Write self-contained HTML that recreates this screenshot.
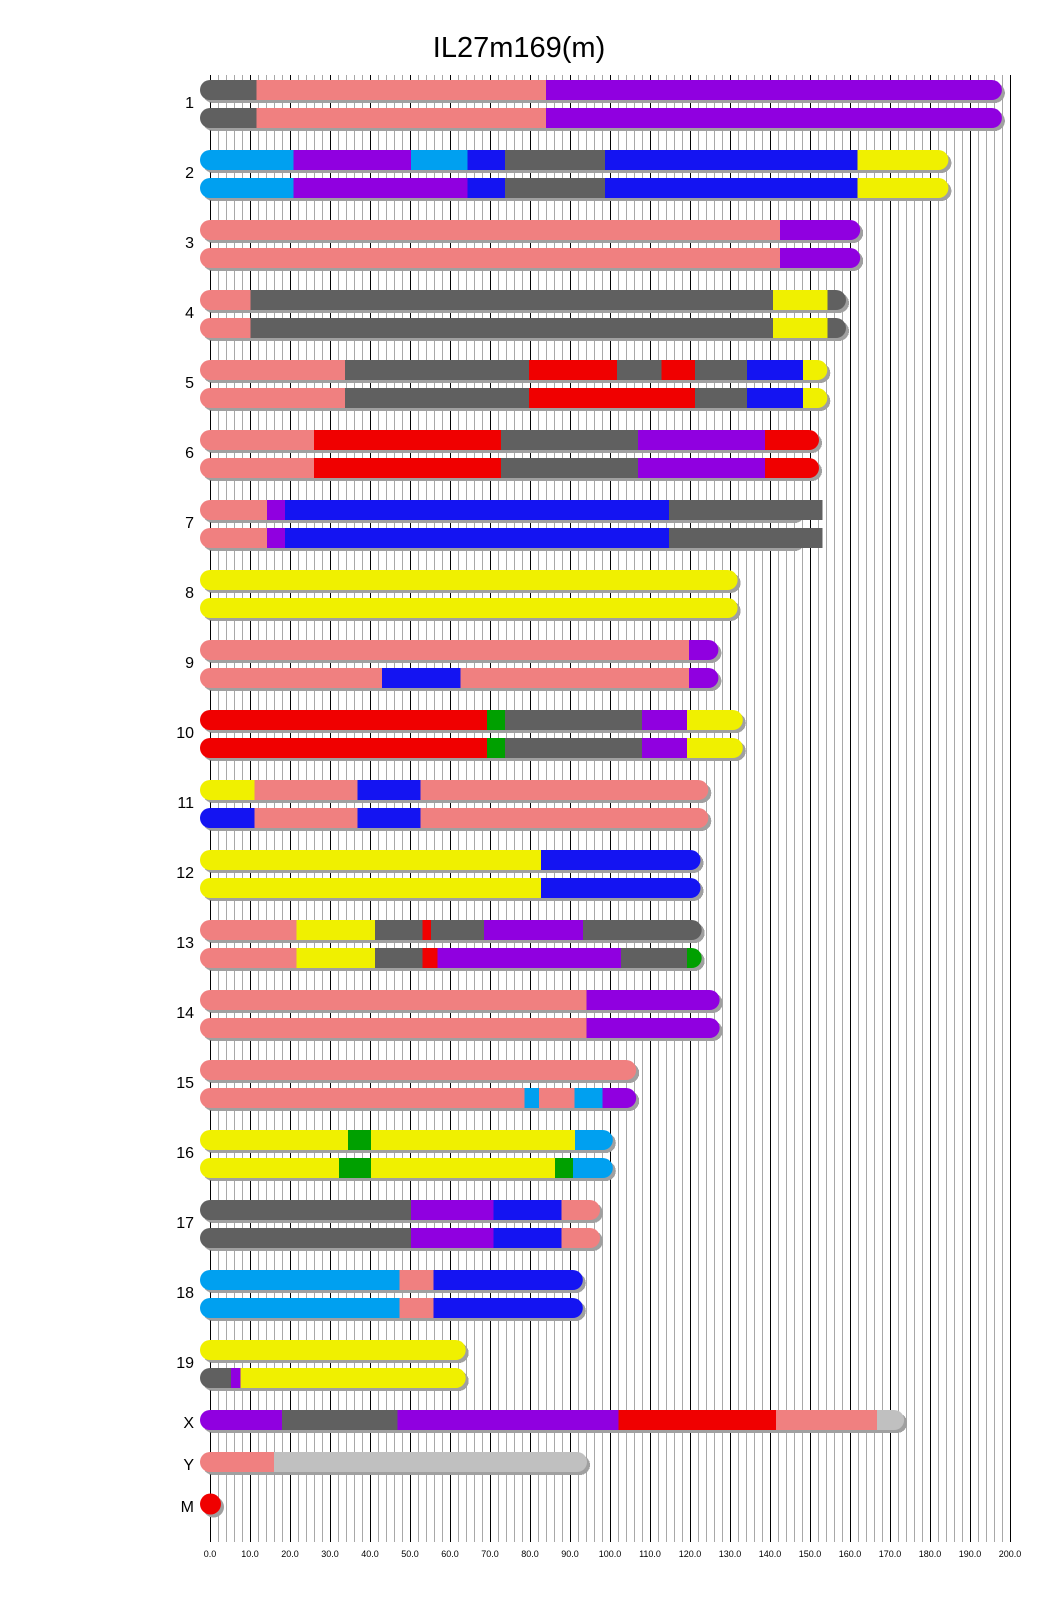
<!DOCTYPE html>
<html><head><meta charset="utf-8"><style>
html,body{margin:0;padding:0;background:#fff;}
svg{display:block;}
.s{fill:#a0a0a0}.g{fill:#606060}.p{fill:#f08080}.u{fill:#9000e0}.b{fill:#1414f2}.L{fill:#00a0f0}.y{fill:#f0f000}.r{fill:#f00000}.gr{fill:#00a000}.lg{fill:#c0c0c0}
text{font-family:"Liberation Sans",Arial,sans-serif;fill:#000}
.cl{font-size:16px;text-anchor:end}
.tk{font-size:9px;text-anchor:middle}
</style></head><body>
<svg width="1040" height="1616" viewBox="0 0 1040 1616" xmlns="http://www.w3.org/2000/svg" shape-rendering="crispEdges">
<defs>
<pattern id="pg" patternUnits="userSpaceOnUse" x="210" y="0" width="8" height="10"><rect x="0" y="0" width="1" height="10" fill="#a8a8a8"/></pattern>
<pattern id="pb" patternUnits="userSpaceOnUse" x="210" y="0" width="40" height="10"><rect x="0" y="0" width="1" height="10" fill="#000"/></pattern>
<clipPath id="c1"><rect x="200" y="0" width="801.9" height="20" rx="10"/></clipPath>
<clipPath id="c2"><rect x="200" y="0" width="748.4" height="20" rx="10"/></clipPath>
<clipPath id="c3"><rect x="200" y="0" width="660.2" height="20" rx="10"/></clipPath>
<clipPath id="c4"><rect x="200" y="0" width="646" height="20" rx="10"/></clipPath>
<clipPath id="c5"><rect x="200" y="0" width="627.3" height="20" rx="10"/></clipPath>
<clipPath id="c6"><rect x="200" y="0" width="619" height="20" rx="10"/></clipPath>
<clipPath id="c7"><rect x="200" y="0" width="601.8" height="20" rx="10"/></clipPath>
<clipPath id="c8"><rect x="200" y="0" width="537.6" height="20" rx="10"/></clipPath>
<clipPath id="c9"><rect x="200" y="0" width="518.4" height="20" rx="10"/></clipPath>
<clipPath id="c10"><rect x="200" y="0" width="542.8" height="20" rx="10"/></clipPath>
<clipPath id="c11"><rect x="200" y="0" width="508.3" height="20" rx="10"/></clipPath>
<clipPath id="c12"><rect x="200" y="0" width="500.5" height="20" rx="10"/></clipPath>
<clipPath id="c13"><rect x="200" y="0" width="501.7" height="20" rx="10"/></clipPath>
<clipPath id="c14"><rect x="200" y="0" width="519.6" height="20" rx="10"/></clipPath>
<clipPath id="c15"><rect x="200" y="0" width="436.2" height="20" rx="10"/></clipPath>
<clipPath id="c16"><rect x="200" y="0" width="412.8" height="20" rx="10"/></clipPath>
<clipPath id="c17"><rect x="200" y="0" width="400" height="20" rx="10"/></clipPath>
<clipPath id="c18"><rect x="200" y="0" width="382.8" height="20" rx="10"/></clipPath>
<clipPath id="c19"><rect x="200" y="0" width="265.7" height="20" rx="10"/></clipPath>
<clipPath id="cX"><rect x="200" y="0" width="704.1" height="20" rx="10"/></clipPath>
<clipPath id="cY"><rect x="200" y="0" width="387" height="20" rx="10"/></clipPath>
</defs>
<rect x="0" y="0" width="1040" height="1616" fill="#fff"/>
<text x="519" y="57" style="font-size:29px;text-anchor:middle">IL27m169(m)</text>
<rect x="210" y="75" width="801" height="1467" fill="url(#pg)"/>
<rect x="210" y="75" width="801" height="1467" fill="url(#pb)"/>

<!-- chr1 -->
<g transform="translate(0,80)"><rect class="s" x="203" y="3" width="801.9" height="20" rx="10"/><g clip-path="url(#c1)">
<rect class="g" x="200" y="0" width="56.4" height="20"/><rect class="p" x="256.4" y="0" width="289.6" height="20"/><rect class="u" x="546" y="0" width="460" height="20"/></g></g>
<g transform="translate(0,108)"><rect class="s" x="203" y="3" width="801.9" height="20" rx="10"/><g clip-path="url(#c1)">
<rect class="g" x="200" y="0" width="56.4" height="20"/><rect class="p" x="256.4" y="0" width="289.6" height="20"/><rect class="u" x="546" y="0" width="460" height="20"/></g></g>
<text class="cl" x="194" y="108">1</text>

<!-- chr2 -->
<g transform="translate(0,150)"><rect class="s" x="203" y="3" width="748.4" height="20" rx="10"/><g clip-path="url(#c2)">
<rect class="L" x="200" y="0" width="93.5" height="20"/><rect class="u" x="293.5" y="0" width="117.7" height="20"/><rect class="L" x="411.2" y="0" width="56.4" height="20"/><rect class="b" x="467.6" y="0" width="37.2" height="20"/><rect class="g" x="504.8" y="0" width="100" height="20"/><rect class="b" x="604.8" y="0" width="252.8" height="20"/><rect class="y" x="857.6" y="0" width="95" height="20"/></g></g>
<g transform="translate(0,178)"><rect class="s" x="203" y="3" width="748.4" height="20" rx="10"/><g clip-path="url(#c2)">
<rect class="L" x="200" y="0" width="93.5" height="20"/><rect class="u" x="293.5" y="0" width="174.1" height="20"/><rect class="b" x="467.6" y="0" width="37.2" height="20"/><rect class="g" x="504.8" y="0" width="100" height="20"/><rect class="b" x="604.8" y="0" width="252.8" height="20"/><rect class="y" x="857.6" y="0" width="95" height="20"/></g></g>
<text class="cl" x="194" y="178">2</text>

<!-- chr3 -->
<g transform="translate(0,220)"><rect class="s" x="203" y="3" width="660.2" height="20" rx="10"/><g clip-path="url(#c3)">
<rect class="p" x="200" y="0" width="580" height="20"/><rect class="u" x="780" y="0" width="85" height="20"/></g></g>
<g transform="translate(0,248)"><rect class="s" x="203" y="3" width="660.2" height="20" rx="10"/><g clip-path="url(#c3)">
<rect class="p" x="200" y="0" width="580" height="20"/><rect class="u" x="780" y="0" width="85" height="20"/></g></g>
<text class="cl" x="194" y="248">3</text>

<!-- chr4 -->
<g transform="translate(0,290)"><rect class="s" x="203" y="3" width="646" height="20" rx="10"/><g clip-path="url(#c4)">
<rect class="p" x="200" y="0" width="50.4" height="20"/><rect class="g" x="250.4" y="0" width="522.4" height="20"/><rect class="y" x="772.8" y="0" width="54.8" height="20"/><rect class="g" x="827.6" y="0" width="25" height="20"/></g></g>
<g transform="translate(0,318)"><rect class="s" x="203" y="3" width="646" height="20" rx="10"/><g clip-path="url(#c4)">
<rect class="p" x="200" y="0" width="50.4" height="20"/><rect class="g" x="250.4" y="0" width="522.4" height="20"/><rect class="y" x="772.8" y="0" width="54.8" height="20"/><rect class="g" x="827.6" y="0" width="25" height="20"/></g></g>
<text class="cl" x="194" y="318">4</text>

<!-- chr5 -->
<g transform="translate(0,360)"><rect class="s" x="203" y="3" width="627.3" height="20" rx="10"/><g clip-path="url(#c5)">
<rect class="p" x="200" y="0" width="145.2" height="20"/><rect class="g" x="345.2" y="0" width="183.6" height="20"/><rect class="r" x="528.8" y="0" width="88" height="20"/><rect class="g" x="616.8" y="0" width="44.8" height="20"/><rect class="r" x="661.6" y="0" width="33.6" height="20"/><rect class="g" x="695.2" y="0" width="51.6" height="20"/><rect class="b" x="746.8" y="0" width="56" height="20"/><rect class="y" x="802.8" y="0" width="30" height="20"/></g></g>
<g transform="translate(0,388)"><rect class="s" x="203" y="3" width="627.3" height="20" rx="10"/><g clip-path="url(#c5)">
<rect class="p" x="200" y="0" width="145.2" height="20"/><rect class="g" x="345.2" y="0" width="183.6" height="20"/><rect class="r" x="528.8" y="0" width="166.4" height="20"/><rect class="g" x="695.2" y="0" width="51.6" height="20"/><rect class="b" x="746.8" y="0" width="56" height="20"/><rect class="y" x="802.8" y="0" width="30" height="20"/></g></g>
<text class="cl" x="194" y="388">5</text>

<!-- chr6 -->
<g transform="translate(0,430)"><rect class="s" x="203" y="3" width="619" height="20" rx="10"/><g clip-path="url(#c6)">
<rect class="p" x="200" y="0" width="114" height="20"/><rect class="r" x="314" y="0" width="186.8" height="20"/><rect class="g" x="500.8" y="0" width="137.2" height="20"/><rect class="u" x="638" y="0" width="126.8" height="20"/><rect class="r" x="764.8" y="0" width="60" height="20"/></g></g>
<g transform="translate(0,458)"><rect class="s" x="203" y="3" width="619" height="20" rx="10"/><g clip-path="url(#c6)">
<rect class="p" x="200" y="0" width="114" height="20"/><rect class="r" x="314" y="0" width="186.8" height="20"/><rect class="g" x="500.8" y="0" width="137.2" height="20"/><rect class="u" x="638" y="0" width="126.8" height="20"/><rect class="r" x="764.8" y="0" width="60" height="20"/></g></g>
<text class="cl" x="194" y="458">6</text>

<!-- chr7 -->
<g transform="translate(0,500)"><rect class="s" x="203" y="3" width="601.8" height="20" rx="10"/><g clip-path="url(#c7)">
<rect class="p" x="200" y="0" width="66.8" height="20"/><rect class="u" x="266.8" y="0" width="18.4" height="20"/><rect class="b" x="285.2" y="0" width="383.6" height="20"/><rect class="g" x="668.8" y="0" width="140" height="20"/></g>
<rect class="g" x="760" y="0" width="62.7" height="20"/></g>
<g transform="translate(0,528)"><rect class="s" x="203" y="3" width="601.8" height="20" rx="10"/><g clip-path="url(#c7)">
<rect class="p" x="200" y="0" width="66.8" height="20"/><rect class="u" x="266.8" y="0" width="18.4" height="20"/><rect class="b" x="285.2" y="0" width="383.6" height="20"/><rect class="g" x="668.8" y="0" width="140" height="20"/></g>
<rect class="g" x="760" y="0" width="62.7" height="20"/></g>
<text class="cl" x="194" y="528">7</text>

<!-- chr8 -->
<g transform="translate(0,570)"><rect class="s" x="203" y="3" width="537.6" height="20" rx="10"/><g clip-path="url(#c8)">
<rect class="y" x="200" y="0" width="545" height="20"/></g></g>
<g transform="translate(0,598)"><rect class="s" x="203" y="3" width="537.6" height="20" rx="10"/><g clip-path="url(#c8)">
<rect class="y" x="200" y="0" width="545" height="20"/></g></g>
<text class="cl" x="194" y="598">8</text>

<!-- chr9 -->
<g transform="translate(0,640)"><rect class="s" x="203" y="3" width="518.4" height="20" rx="10"/><g clip-path="url(#c9)">
<rect class="p" x="200" y="0" width="489.2" height="20"/><rect class="u" x="689.2" y="0" width="35" height="20"/></g></g>
<g transform="translate(0,668)"><rect class="s" x="203" y="3" width="518.4" height="20" rx="10"/><g clip-path="url(#c9)">
<rect class="p" x="200" y="0" width="182" height="20"/><rect class="b" x="382" y="0" width="78.4" height="20"/><rect class="p" x="460.4" y="0" width="228.8" height="20"/><rect class="u" x="689.2" y="0" width="35" height="20"/></g></g>
<text class="cl" x="194" y="668">9</text>

<!-- chr10 -->
<g transform="translate(0,710)"><rect class="s" x="203" y="3" width="542.8" height="20" rx="10"/><g clip-path="url(#c10)">
<rect class="r" x="200" y="0" width="287.2" height="20"/><rect class="gr" x="487.2" y="0" width="17.6" height="20"/><rect class="g" x="504.8" y="0" width="137.2" height="20"/><rect class="u" x="642" y="0" width="45.2" height="20"/><rect class="y" x="687.2" y="0" width="60" height="20"/></g></g>
<g transform="translate(0,738)"><rect class="s" x="203" y="3" width="542.8" height="20" rx="10"/><g clip-path="url(#c10)">
<rect class="r" x="200" y="0" width="287.2" height="20"/><rect class="gr" x="487.2" y="0" width="17.6" height="20"/><rect class="g" x="504.8" y="0" width="137.2" height="20"/><rect class="u" x="642" y="0" width="45.2" height="20"/><rect class="y" x="687.2" y="0" width="60" height="20"/></g></g>
<text class="cl" x="194" y="738">10</text>

<!-- chr11 -->
<g transform="translate(0,780)"><rect class="s" x="203" y="3" width="508.3" height="20" rx="10"/><g clip-path="url(#c11)">
<rect class="y" x="200" y="0" width="54.4" height="20"/><rect class="p" x="254.4" y="0" width="103.2" height="20"/><rect class="b" x="357.6" y="0" width="62.8" height="20"/><rect class="p" x="420.4" y="0" width="295" height="20"/></g></g>
<g transform="translate(0,808)"><rect class="s" x="203" y="3" width="508.3" height="20" rx="10"/><g clip-path="url(#c11)">
<rect class="b" x="200" y="0" width="54.4" height="20"/><rect class="p" x="254.4" y="0" width="103.2" height="20"/><rect class="b" x="357.6" y="0" width="62.8" height="20"/><rect class="p" x="420.4" y="0" width="295" height="20"/></g></g>
<text class="cl" x="194" y="808">11</text>

<!-- chr12 -->
<g transform="translate(0,850)"><rect class="s" x="203" y="3" width="500.5" height="20" rx="10"/><g clip-path="url(#c12)">
<rect class="y" x="200" y="0" width="340.8" height="20"/><rect class="b" x="540.8" y="0" width="165" height="20"/></g></g>
<g transform="translate(0,878)"><rect class="s" x="203" y="3" width="500.5" height="20" rx="10"/><g clip-path="url(#c12)">
<rect class="y" x="200" y="0" width="340.8" height="20"/><rect class="b" x="540.8" y="0" width="165" height="20"/></g></g>
<text class="cl" x="194" y="878">12</text>

<!-- chr13 -->
<g transform="translate(0,920)"><rect class="s" x="203" y="3" width="501.7" height="20" rx="10"/><g clip-path="url(#c13)">
<rect class="p" x="200" y="0" width="96.4" height="20"/><rect class="y" x="296.4" y="0" width="78.4" height="20"/><rect class="g" x="374.8" y="0" width="47.6" height="20"/><rect class="r" x="422.4" y="0" width="8.4" height="20"/><rect class="g" x="430.8" y="0" width="53.2" height="20"/><rect class="u" x="484" y="0" width="99.2" height="20"/><rect class="g" x="583.2" y="0" width="125" height="20"/></g></g>
<g transform="translate(0,948)"><rect class="s" x="203" y="3" width="501.7" height="20" rx="10"/><g clip-path="url(#c13)">
<rect class="p" x="200" y="0" width="96.4" height="20"/><rect class="y" x="296.4" y="0" width="78.4" height="20"/><rect class="g" x="374.8" y="0" width="47.6" height="20"/><rect class="r" x="422.4" y="0" width="15.2" height="20"/><rect class="u" x="437.6" y="0" width="183.2" height="20"/><rect class="g" x="620.8" y="0" width="66.4" height="20"/><rect class="gr" x="687.2" y="0" width="20" height="20"/></g></g>
<text class="cl" x="194" y="948">13</text>

<!-- chr14 -->
<g transform="translate(0,990)"><rect class="s" x="203" y="3" width="519.6" height="20" rx="10"/><g clip-path="url(#c14)">
<rect class="p" x="200" y="0" width="386.4" height="20"/><rect class="u" x="586.4" y="0" width="140" height="20"/></g></g>
<g transform="translate(0,1018)"><rect class="s" x="203" y="3" width="519.6" height="20" rx="10"/><g clip-path="url(#c14)">
<rect class="p" x="200" y="0" width="386.4" height="20"/><rect class="u" x="586.4" y="0" width="140" height="20"/></g></g>
<text class="cl" x="194" y="1018">14</text>

<!-- chr15 -->
<g transform="translate(0,1060)"><rect class="s" x="203" y="3" width="436.2" height="20" rx="10"/><g clip-path="url(#c15)">
<rect class="p" x="200" y="0" width="445" height="20"/></g></g>
<g transform="translate(0,1088)"><rect class="s" x="203" y="3" width="436.2" height="20" rx="10"/><g clip-path="url(#c15)">
<rect class="p" x="200" y="0" width="324.3" height="20"/><rect class="L" x="524.3" y="0" width="14.7" height="20"/><rect class="p" x="539" y="0" width="35.3" height="20"/><rect class="L" x="574.3" y="0" width="28.4" height="20"/><rect class="u" x="602.7" y="0" width="40" height="20"/></g></g>
<text class="cl" x="194" y="1088">15</text>

<!-- chr16 -->
<g transform="translate(0,1130)"><rect class="s" x="203" y="3" width="412.8" height="20" rx="10"/><g clip-path="url(#c16)">
<rect class="y" x="200" y="0" width="148" height="20"/><rect class="gr" x="348" y="0" width="22.8" height="20"/><rect class="y" x="370.8" y="0" width="204.2" height="20"/><rect class="L" x="575" y="0" width="45" height="20"/></g></g>
<g transform="translate(0,1158)"><rect class="s" x="203" y="3" width="412.8" height="20" rx="10"/><g clip-path="url(#c16)">
<rect class="y" x="200" y="0" width="138.8" height="20"/><rect class="gr" x="338.8" y="0" width="32" height="20"/><rect class="y" x="370.8" y="0" width="184.2" height="20"/><rect class="gr" x="555" y="0" width="18" height="20"/><rect class="L" x="573" y="0" width="45" height="20"/></g></g>
<text class="cl" x="194" y="1158">16</text>

<!-- chr17 -->
<g transform="translate(0,1200)"><rect class="s" x="203" y="3" width="400" height="20" rx="10"/><g clip-path="url(#c17)">
<rect class="g" x="200" y="0" width="211.2" height="20"/><rect class="u" x="411.2" y="0" width="82.4" height="20"/><rect class="b" x="493.6" y="0" width="68" height="20"/><rect class="p" x="561.6" y="0" width="45" height="20"/></g></g>
<g transform="translate(0,1228)"><rect class="s" x="203" y="3" width="400" height="20" rx="10"/><g clip-path="url(#c17)">
<rect class="g" x="200" y="0" width="211.2" height="20"/><rect class="u" x="411.2" y="0" width="82.4" height="20"/><rect class="b" x="493.6" y="0" width="68" height="20"/><rect class="p" x="561.6" y="0" width="45" height="20"/></g></g>
<text class="cl" x="194" y="1228">17</text>

<!-- chr18 -->
<g transform="translate(0,1270)"><rect class="s" x="203" y="3" width="382.8" height="20" rx="10"/><g clip-path="url(#c18)">
<rect class="L" x="200" y="0" width="199.6" height="20"/><rect class="p" x="399.6" y="0" width="34" height="20"/><rect class="b" x="433.6" y="0" width="155" height="20"/></g></g>
<g transform="translate(0,1298)"><rect class="s" x="203" y="3" width="382.8" height="20" rx="10"/><g clip-path="url(#c18)">
<rect class="L" x="200" y="0" width="199.6" height="20"/><rect class="p" x="399.6" y="0" width="34" height="20"/><rect class="b" x="433.6" y="0" width="155" height="20"/></g></g>
<text class="cl" x="194" y="1298">18</text>

<!-- chr19 -->
<g transform="translate(0,1340)"><rect class="s" x="203" y="3" width="265.7" height="20" rx="10"/><g clip-path="url(#c19)">
<rect class="y" x="200" y="0" width="272" height="20"/></g></g>
<g transform="translate(0,1368)"><rect class="s" x="203" y="3" width="265.7" height="20" rx="10"/><g clip-path="url(#c19)">
<rect class="g" x="200" y="0" width="31" height="20"/><rect class="u" x="231" y="0" width="9.5" height="20"/><rect class="y" x="240.5" y="0" width="232" height="20"/></g></g>
<text class="cl" x="194" y="1368">19</text>

<!-- X -->
<g transform="translate(0,1410)"><rect class="s" x="203" y="3" width="704.1" height="20" rx="10"/><g clip-path="url(#cX)">
<rect class="u" x="200" y="0" width="82" height="20"/><rect class="g" x="282" y="0" width="115.6" height="20"/><rect class="u" x="397.6" y="0" width="220.8" height="20"/><rect class="r" x="618.4" y="0" width="157.6" height="20"/><rect class="p" x="776" y="0" width="101" height="20"/><rect class="lg" x="877" y="0" width="35" height="20"/></g></g>
<text class="cl" x="194" y="1428">X</text>

<!-- Y -->
<g transform="translate(0,1452)"><rect class="s" x="203" y="3" width="387" height="20" rx="10"/><g clip-path="url(#cY)">
<rect class="p" x="200" y="0" width="74" height="20"/><rect class="lg" x="274" y="0" width="320" height="20"/></g></g>
<text class="cl" x="194" y="1470">Y</text>

<!-- M -->
<circle class="s" cx="213.5" cy="1507" r="10.5" shape-rendering="auto"/>
<circle class="r" cx="210.5" cy="1504" r="10.5" shape-rendering="auto"/>
<text class="cl" x="194" y="1512">M</text>

<!-- tick labels -->
<g shape-rendering="auto">
<text class="tk" x="210" y="1557">0.0</text>
<text class="tk" x="250" y="1557">10.0</text>
<text class="tk" x="290" y="1557">20.0</text>
<text class="tk" x="330" y="1557">30.0</text>
<text class="tk" x="370" y="1557">40.0</text>
<text class="tk" x="410" y="1557">50.0</text>
<text class="tk" x="450" y="1557">60.0</text>
<text class="tk" x="490" y="1557">70.0</text>
<text class="tk" x="530" y="1557">80.0</text>
<text class="tk" x="570" y="1557">90.0</text>
<text class="tk" x="610" y="1557">100.0</text>
<text class="tk" x="650" y="1557">110.0</text>
<text class="tk" x="690" y="1557">120.0</text>
<text class="tk" x="730" y="1557">130.0</text>
<text class="tk" x="770" y="1557">140.0</text>
<text class="tk" x="810" y="1557">150.0</text>
<text class="tk" x="850" y="1557">160.0</text>
<text class="tk" x="890" y="1557">170.0</text>
<text class="tk" x="930" y="1557">180.0</text>
<text class="tk" x="970" y="1557">190.0</text>
<text class="tk" x="1010" y="1557">200.0</text>
</g>
</svg>
</body></html>
